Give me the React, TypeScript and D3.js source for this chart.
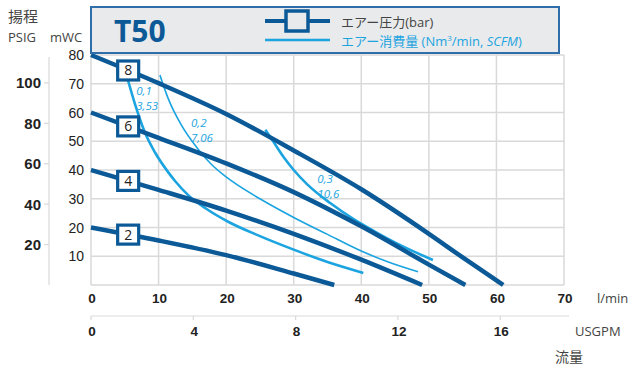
import React from "react";
import * as d3 from "d3";

// Flow axis ticks (l/min) and secondary flow ticks (USGPM)
const flowTicks = [0, 10, 20, 30, 40, 50, 60, 70];
const gpmTicks = [0, 4, 8, 12, 16];
// Head axis ticks (mWC) and secondary head ticks (PSIG)
const headTicks = [10, 20, 30, 40, 50, 60, 70, 80];
const psiTicks = [20, 40, 60, 80, 100];

// Air pressure curves: [flow l/min, head mWC]
const bar8: [number, number][] = [[0, 80], [10, 70.2], [20, 59.5], [30, 46.8], [40, 33.3], [50, 17.8], [55, 9.6], [61, 0]];
const bar6: [number, number][] = [[0, 60], [10, 51.2], [20, 42.3], [30, 32.3], [40, 20.4], [50, 7.1], [55.4, 0]];
const bar4: [number, number][] = [[0, 40], [10, 33.1], [20, 25.9], [30, 17.8], [40, 8.8], [49, 0]];
const bar2: [number, number][] = [[0, 20], [10, 15.5], [20, 10.4], [30, 4], [36, 0]];
const pressureLabels = ["8", "6", "4", "2"];
const pressureCurves = [bar8, bar6, bar4, bar2];

// Air consumption curves: [flow l/min, head mWC]
const air01: [number, number][] = [[5.5, 71], [6.5, 63], [7.9, 53.5], [9.5, 46], [11.5, 39], [12.5, 36], [14.5, 31], [17, 26.6], [20.3, 22], [25, 17], [30, 12.3], [35, 8], [40.3, 4.2]];
const air02: [number, number][] = [[10.2, 73], [11.4, 65], [13.4, 55.5], [15.8, 47.4], [17.8, 42], [20, 37.6], [25, 30], [30, 23.5], [35, 17.6], [40, 11.8], [44, 8], [48.4, 4.6]];
const air03: [number, number][] = [[25.8, 54], [27, 49.8], [28.5, 44.5], [30, 40], [32, 35], [35.4, 28.5], [38.8, 23], [42, 18.6], [46, 13.6], [50.6, 8.7]];
const airCurves = [air01, air02, air03];
const airWidths = [2.6, 1.6, 2.6];
const airNm3 = ["0,1", "0,2", "0,3"];
const airScfm = ["3,53", "7,06", "10,6"];
const airLabelAt: [number, number][] = [[6.7, 66], [14.8, 55], [33.5, 35.5]];

const DARK = "#0b5a97";
const LIGHT = "#1ba4e0";
const GRID = "#d9d9d9";
const TEXT = "#444";
const NUM = "'Liberation Sans', Arial, sans-serif";
const SANS = "'Open Sans', 'Noto Sans CJK JP', sans-serif";

export default function App() {
  const x = d3.scaleLinear().domain([0, 70]).range([91, 564]);
  const y = d3.scaleLinear().domain([0, 80]).range([285, 55]);
  const xg = d3.scaleLinear().domain([0, 70 / 3.785]).range([91, 564]);
  const yp = d3.scaleLinear().domain([0, 80 * 1.4223]).range([285, 55]);
  const line = d3
    .line<[number, number]>()
    .x((d) => x(d[0]))
    .y((d) => y(d[1]))
    .curve(d3.curveMonotoneX);

  const boxX = 5.5;
  const interp = (pts: [number, number][], fx: number) => {
    for (let i = 0; i < pts.length - 1; i++) {
      if (fx >= pts[i][0] && fx <= pts[i + 1][0]) {
        const t = (fx - pts[i][0]) / (pts[i + 1][0] - pts[i][0]);
        return pts[i][1] + t * (pts[i + 1][1] - pts[i][1]);
      }
    }
    return pts[0][1];
  };

  return (
    <svg width={630} height={367} style={{ position: "absolute", left: 0, top: 0 }}>
      <rect width={630} height={367} fill="#fff" />
      {/* grid */}
      {flowTicks.slice(1).map((t) => (
        <line key={"vx" + t} x1={x(t)} x2={x(t)} y1={y(80)} y2={y(0)} stroke={GRID} strokeWidth={1.5} />
      ))}
      {headTicks.map((t) => (
        <line key={"hy" + t} x1={x(0)} x2={x(70)} y1={y(t)} y2={y(t)} stroke={GRID} strokeWidth={1.5} />
      ))}
      <line x1={x(0)} x2={x(70)} y1={y(0)} y2={y(0)} stroke={GRID} strokeWidth={1.5} />
      <line x1={x(0)} x2={x(0)} y1={y(80)} y2={y(0)} stroke={GRID} strokeWidth={1.5} />

      {/* PSIG axis */}
      <line x1={49} x2={49} y1={57} y2={285} stroke={GRID} strokeWidth={1.2} />
      {psiTicks.map((t) => (
        <g key={"p" + t}>
          <line x1={44} x2={49} y1={yp(t)} y2={yp(t)} stroke={GRID} strokeWidth={1.2} />
          <text x={41} y={yp(t) + 5.5} textAnchor="end" fontFamily={NUM} fontWeight="bold" fontSize={15} fill="#222">
            {t}
          </text>
        </g>
      ))}
      {/* mWC labels */}
      {headTicks.map((t) => (
        <text key={"m" + t} x={84} y={y(t) + 5} textAnchor="end" fontFamily={NUM} fontSize={14} fill="#222">
          {t}
        </text>
      ))}
      {/* l/min labels */}
      {flowTicks.map((t) => (
        <text key={"f" + t} x={x(t) + 1} y={303} textAnchor="middle" fontFamily={NUM} fontWeight="bold" fontSize={13.5} fill="#222">
          {t}
        </text>
      ))}
      <text x={597} y={303} fontFamily={SANS} fontSize={13} fill={TEXT}>l/min</text>
      {/* USGPM axis */}
      <line x1={91} x2={569} y1={316} y2={316} stroke={GRID} strokeWidth={1.2} />
      {gpmTicks.map((t) => (
        <g key={"g" + t}>
          <line x1={xg(t)} x2={xg(t)} y1={316} y2={320} stroke={GRID} strokeWidth={1.2} />
          <text x={xg(t) + 1} y={336} textAnchor="middle" fontFamily={NUM} fontWeight="bold" fontSize={13.5} fill="#222">
            {t}
          </text>
        </g>
      ))}
      <text x={575} y={336} fontFamily={SANS} fontSize={13} fill={TEXT}>USGPM</text>
      <text x={555} y={362} fontFamily={SANS} fontSize={14} fill={TEXT}>流量</text>

      {/* axis titles */}
      <text x={8} y={22} fontFamily={SANS} fontSize={15} fill={TEXT}>揚程</text>
      <text x={8} y={42} fontFamily={SANS} fontSize={13} fill={TEXT}>PSIG</text>
      <text x={50} y={42} fontFamily={SANS} fontSize={13} fill={TEXT}>mWC</text>

      {/* air consumption curves */}
      {airCurves.map((c, i) => (
        <path key={"a" + i} d={line(c) || ""} fill="none" stroke={LIGHT} strokeWidth={airWidths[i]} />
      ))}
      {airCurves.map((_, i) => (
        <g key={"al" + i} fontFamily={SANS} fontStyle="italic" fontSize={11.5} fill={LIGHT}>
          <text x={x(airLabelAt[i][0])} y={y(airLabelAt[i][1])}>{airNm3[i]}</text>
          <text x={x(airLabelAt[i][0])} y={y(airLabelAt[i][1]) + 15}>{airScfm[i]}</text>
        </g>
      ))}

      {/* air pressure curves */}
      {pressureCurves.map((c, i) => (
        <path key={"b" + i} d={line(c) || ""} fill="none" stroke={DARK} strokeWidth={4.5} />
      ))}
      {pressureCurves.map((c, i) => {
        const cx = x(boxX);
        const cy = y(interp(c, boxX));
        return (
          <g key={"bx" + i}>
            <rect x={cx - 10.5} y={cy - 9.5} width={21} height={19} fill="#fff" stroke={DARK} strokeWidth={3.2} />
            <text x={cx} y={cy + 5} textAnchor="middle" fontFamily={SANS} fontSize={14} fill="#222">
              {pressureLabels[i]}
            </text>
          </g>
        );
      })}

      {/* header */}
      <rect x={91} y={7} width={468} height={46} fill="#e9eaeb" stroke="#2f6ea8" strokeWidth={2} />
      <text x={114} y={42} fontFamily={SANS} fontWeight="bold" fontSize={30} fill={DARK}>T50</text>
      <line x1={265} x2={330} y1={21} y2={21} stroke={DARK} strokeWidth={4} />
      <rect x={286} y={11} width={22} height={20} fill="#e9eaeb" stroke={DARK} strokeWidth={3.5} />
      <text x={341} y={27} fontFamily={SANS} fontSize={13} fill={TEXT}>エアー圧力(bar)</text>
      <line x1={265} x2={330} y1={40} y2={40} stroke={LIGHT} strokeWidth={2.5} />
      <text x={341} y={46} fontFamily={SANS} fontSize={13} fill={LIGHT}>
        エアー消費量 (Nm<tspan dy={-5} fontSize={8}>3</tspan>
        <tspan dy={5}>/min, </tspan>
        <tspan fontStyle="italic">SCFM</tspan>)
      </text>
    </svg>
  );
}
